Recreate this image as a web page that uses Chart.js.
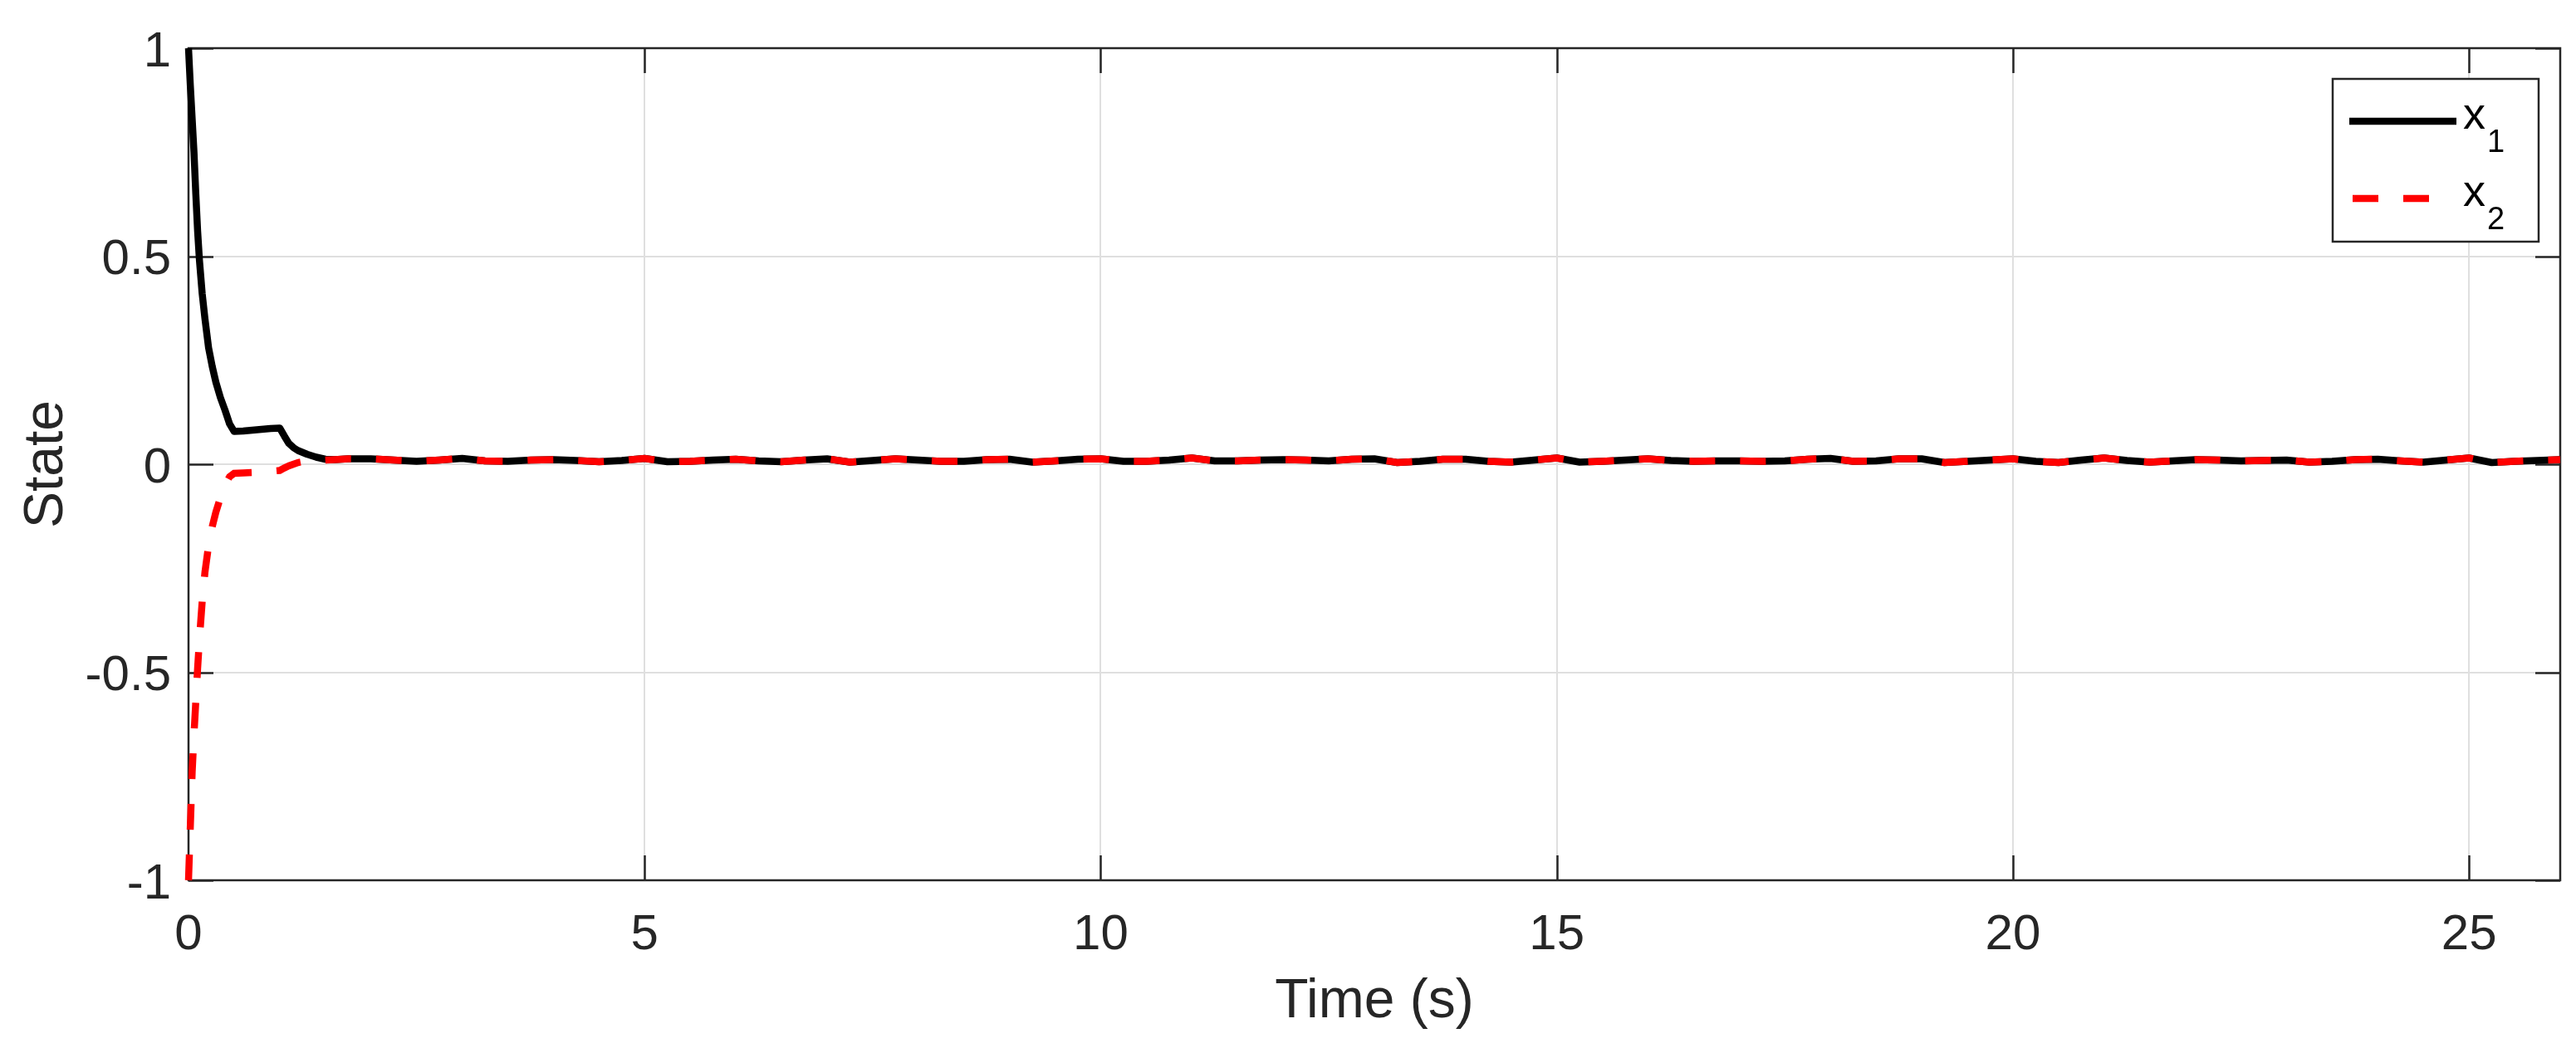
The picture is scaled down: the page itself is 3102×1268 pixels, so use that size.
<!DOCTYPE html>
<html>
<head>
<meta charset="utf-8">
<script src="https://cdn.jsdelivr.net/npm/chart.js@4.4.1/dist/chart.umd.min.js"></script>
<style>
  html, body { margin: 0; padding: 0; background: #fff; }
  #wrap { width: 3102px; height: 1268px; }
</style>
</head>
<body>
<div id="wrap"><canvas id="stateChart" width="3102" height="1268"></canvas></div>
<script>
// time samples (s): fine steps during the transient, then every 0.25 s
const time = [
    0, 0.02, 0.04, 0.06, 0.08, 0.1, 0.12, 0.15, 0.18, 0.22, 0.26, 0.3, 0.35, 0.4, 0.45,
    0.5, 0.6, 0.7, 0.8, 0.9, 1.0, 1.05, 1.1, 1.15, 1.2, 1.3, 1.4, 1.5, 1.6,
    1.75, 2, 2.25, 2.5, 2.75, 3, 3.25, 3.5, 3.75, 4, 4.25, 4.5, 4.75, 5, 5.25, 5.5, 5.75,
    6, 6.25, 6.5, 6.75, 7, 7.25, 7.5, 7.75, 8, 8.25, 8.5, 8.75, 9, 9.25, 9.5, 9.75,
    10, 10.25, 10.5, 10.75, 11, 11.25, 11.5, 11.75, 12, 12.25, 12.5, 12.75, 13, 13.25, 13.5, 13.75,
    14, 14.25, 14.5, 14.75, 15, 15.25, 15.5, 15.75, 16, 16.25, 16.5, 16.75, 17, 17.25, 17.5, 17.75,
    18, 18.25, 18.5, 18.75, 19, 19.25, 19.5, 19.75, 20, 20.25, 20.5, 20.75, 21, 21.25, 21.5, 21.75,
    22, 22.25, 22.5, 22.75, 23, 23.25, 23.5, 23.75, 24, 24.25, 24.5, 24.75, 25, 25.25, 25.5, 25.75, 26
];

const x1 = [
    1.0, 0.91, 0.83, 0.75, 0.65, 0.56, 0.49, 0.41, 0.35, 0.28, 0.235, 0.197, 0.16, 0.13, 0.097,
    0.079, 0.080, 0.082, 0.084, 0.086, 0.087, 0.068, 0.050, 0.040, 0.033, 0.024, 0.017, 0.012, 0.011,
    0.013, 0.013, 0.010, 0.007, 0.010, 0.014, 0.008, 0.007, 0.010, 0.011, 0.009, 0.006, 0.009, 0.014, 0.006, 0.007, 0.010,
    0.012, 0.008, 0.006, 0.010, 0.013, 0.005, 0.009, 0.013, 0.010, 0.007, 0.007, 0.011, 0.012, 0.005, 0.008, 0.012,
    0.013, 0.007, 0.007, 0.010, 0.015, 0.008, 0.008, 0.010, 0.011, 0.010, 0.008, 0.012, 0.013, 0.004, 0.007, 0.012,
    0.012, 0.007, 0.005, 0.010, 0.015, 0.005, 0.007, 0.010, 0.013, 0.009, 0.007, 0.008, 0.008, 0.007, 0.008, 0.012,
    0.014, 0.007, 0.008, 0.013, 0.013, 0.004, 0.007, 0.010, 0.013, 0.007, 0.004, 0.010, 0.015, 0.009, 0.005, 0.008,
    0.011, 0.010, 0.008, 0.009, 0.010, 0.005, 0.007, 0.011, 0.012, 0.008, 0.005, 0.010, 0.015, 0.004, 0.007, 0.009, 0.011
];

const x2 = [
    -1.0, -0.87, -0.74, -0.65, -0.57, -0.49, -0.42, -0.33, -0.26, -0.195, -0.15, -0.115, -0.08, -0.05, -0.03,
    -0.022, -0.021, -0.020, -0.019, -0.017, -0.015, -0.009, -0.004, 0.0, 0.004, 0.008, 0.009, 0.010, 0.011,
    0.013, 0.013, 0.010, 0.007, 0.010, 0.014, 0.008, 0.007, 0.010, 0.011, 0.009, 0.006, 0.009, 0.014, 0.006, 0.007, 0.010,
    0.012, 0.008, 0.006, 0.010, 0.013, 0.005, 0.009, 0.013, 0.010, 0.007, 0.007, 0.011, 0.012, 0.005, 0.008, 0.012,
    0.013, 0.007, 0.007, 0.010, 0.015, 0.008, 0.008, 0.010, 0.011, 0.010, 0.008, 0.012, 0.013, 0.004, 0.007, 0.012,
    0.012, 0.007, 0.005, 0.010, 0.015, 0.005, 0.007, 0.010, 0.013, 0.009, 0.007, 0.008, 0.008, 0.007, 0.008, 0.012,
    0.014, 0.007, 0.008, 0.013, 0.013, 0.004, 0.007, 0.010, 0.013, 0.007, 0.004, 0.010, 0.015, 0.009, 0.005, 0.008,
    0.011, 0.010, 0.008, 0.009, 0.010, 0.005, 0.007, 0.011, 0.012, 0.008, 0.005, 0.010, 0.015, 0.004, 0.007, 0.009, 0.011
];

const xTicks = [0, 5, 10, 15, 20, 25];
const yTicks = [-1, -0.5, 0, 0.5, 1];
const legendNames = ['x', 'x'];
const legendSubs = ['1', '2'];

const FONT = '"Liberation Sans", Arial, Helvetica, sans-serif';
const AXIS_COLOR = '#262626';
const TICK_LEN = 30;

const points = (ys) => time.map((t, i) => ({ x: t, y: ys[i] }));

// MATLAB style box with inward ticks on all four sides
const axesBox = {
    id: 'axesBox',
    beforeDatasetsDraw(chart) {
        const { ctx, chartArea: a, scales: { x, y } } = chart;
        ctx.save();
        ctx.strokeStyle = AXIS_COLOR;
        ctx.lineWidth = 2.5;
        ctx.beginPath();
        xTicks.forEach(v => {
            const px = Math.round(x.getPixelForValue(v)) + 0.5;
            ctx.moveTo(px, a.bottom); ctx.lineTo(px, a.bottom - TICK_LEN);
            ctx.moveTo(px, a.top); ctx.lineTo(px, a.top + TICK_LEN);
        });
        yTicks.forEach(v => {
            const py = Math.round(y.getPixelForValue(v)) + 0.5;
            ctx.moveTo(a.left, py); ctx.lineTo(a.left + TICK_LEN, py);
            ctx.moveTo(a.right, py); ctx.lineTo(a.right - TICK_LEN, py);
        });
        ctx.stroke();
        ctx.strokeRect(a.left, a.top, a.right - a.left, a.bottom - a.top);
        ctx.restore();
    }
};

const legendBox = {
    id: 'legendBox',
    afterDraw(chart) {
        const { ctx, chartArea: a } = chart;
        const bx = a.right - 274, by = a.top + 37, bw = 248, bh = 196;
        ctx.save();
        ctx.fillStyle = '#fff';
        ctx.fillRect(bx, by, bw, bh);
        ctx.strokeStyle = AXIS_COLOR;
        ctx.lineWidth = 2.5;
        ctx.strokeRect(bx, by, bw, bh);
        chart.data.datasets.forEach((ds, i) => {
            const rowY = by + 51 + i * 93;
            const dashed = !!ds.borderDash;
            ctx.beginPath();
            ctx.strokeStyle = ds.borderColor;
            ctx.lineWidth = ds.borderWidth;
            ctx.setLineDash(ds.borderDash || []);
            ctx.moveTo(bx + (dashed ? 24 : 20), rowY);
            ctx.lineTo(bx + (dashed ? 117 : 149), rowY);
            ctx.stroke();
            ctx.setLineDash([]);
            ctx.fillStyle = '#000';
            ctx.textBaseline = 'alphabetic';
            ctx.textAlign = 'left';
            ctx.font = '54px ' + FONT;
            ctx.fillText(legendNames[i], bx + 157, rowY + 9);
            ctx.font = '38px ' + FONT;
            ctx.fillText(legendSubs[i], bx + 186, rowY + 37);
        });
        ctx.restore();
    }
};

new Chart(document.getElementById('stateChart'), {
    type: 'line',
    data: {
        datasets: [{
            label: 'x1',
            data: points(x1),
            borderColor: '#000000',
            borderWidth: 8.5,
            pointRadius: 0,
            tension: 0,
            borderJoinStyle: 'round',
            clip: 10,
            order: 2
        }, {
            label: 'x2',
            data: points(x2),
            borderColor: '#ff0000',
            borderWidth: 8.5,
            borderDash: [31, 30],
            pointRadius: 0,
            tension: 0,
            clip: 10,
            order: 1
        }]
    },
    options: {
        responsive: false,
        animation: false,
        devicePixelRatio: 1,
        layout: { padding: { top: 58, right: 19, left: 0, bottom: 0 } },
        plugins: {
            legend: { display: false },
            tooltip: { enabled: false }
        },
        scales: {
            x: {
                type: 'linear',
                min: 0,
                max: 26,
                afterBuildTicks: (s) => { s.ticks = xTicks.map(v => ({ value: v })); },
                afterFit: (s) => { s.height = 208; },
                grid: { color: '#dfdfdf', lineWidth: 2, drawTicks: false },
                border: { display: false },
                ticks: {
                    color: AXIS_COLOR,
                    font: { family: FONT, size: 60, lineHeight: 1 },
                    padding: 36,
                    maxRotation: 0,
                    callback: (v) => String(v)
                },
                title: {
                    display: true,
                    text: 'Time (s)',
                    color: AXIS_COLOR,
                    font: { family: FONT, size: 66, lineHeight: 1 },
                    padding: { top: 0, bottom: 28 }
                }
            },
            y: {
                min: -1,
                max: 1,
                afterBuildTicks: (s) => { s.ticks = yTicks.map(v => ({ value: v })); },
                afterFit: (s) => { s.width = 227; },
                grid: { color: '#dfdfdf', lineWidth: 2, drawTicks: false },
                border: { display: false },
                ticks: {
                    color: AXIS_COLOR,
                    font: { family: FONT, size: 60, lineHeight: 1 },
                    padding: 21,
                    labelOffset: 5,
                    callback: (v) => String(v)
                },
                title: {
                    display: true,
                    text: 'State',
                    color: AXIS_COLOR,
                    font: { family: FONT, size: 66, lineHeight: 1 },
                    padding: { top: 24, bottom: 0 }
                }
            }
        }
    },
    plugins: [axesBox, legendBox]
});
</script>
</body>
</html>
